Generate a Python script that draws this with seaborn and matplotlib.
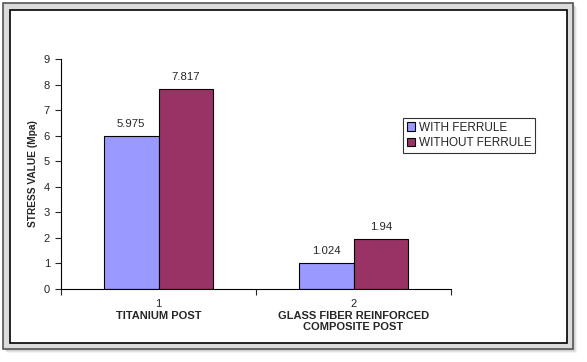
import matplotlib
matplotlib.use("Agg")
import matplotlib.pyplot as plt
import seaborn as sns
import pandas as pd
from matplotlib.patches import Rectangle

categories = ["1", "2"]
category_names = ["TITANIUM POST", "GLASS FIBER REINFORCED\nCOMPOSITE POST"]
series = ["WITH FERRULE", "WITHOUT FERRULE"]
with_ferrule = [5.975, 1.024]
without_ferrule = [7.817, 1.94]
value_labels_with = ["5.975", "1.024"]
value_labels_without = ["7.817", "1.94"]
colors = ["#9999FF", "#993366"]

df = pd.DataFrame({
    "cat": categories * 2,
    "series": [series[0]] * 2 + [series[1]] * 2,
    "value": with_ferrule + without_ferrule,
})

sns.set_style("white")
plt.rcParams["font.family"] = ["Liberation Sans", "DejaVu Sans"]

W, H = 587, 362
fig = plt.figure(figsize=(W / 100, H / 100), dpi=100)
fig.patch.set_facecolor("white")

def px(x0, y0, x1, y1):
    return (x0 / W, 1 - y1 / H), (x1 - x0) / W, (y1 - y0) / H

# shadow
for off, a in [(4, 0.10), (3, 0.15), (2, 0.2)]:
    xy, w, h = px(3 + off, 3 + off, 573 + off, 349 + off)
    fig.patches.append(Rectangle(xy, w, h, transform=fig.transFigure,
                                 facecolor="#888888", alpha=a, edgecolor="none", zorder=0))
xy, w, h = px(3, 3, 573, 349)
fig.patches.append(Rectangle(xy, w, h, transform=fig.transFigure,
                             facecolor="#dcdcdc", edgecolor="#555555", linewidth=1.2, zorder=1))
xy, w, h = px(10, 10, 567, 343)
fig.patches.append(Rectangle(xy, w, h, transform=fig.transFigure,
                             facecolor="white", edgecolor="black", linewidth=1.2, zorder=2))

ax = fig.add_axes([61 / W, 1 - 289 / H, (451 - 61) / W, (289 - 59) / H])
ax.set_facecolor("none")
ax.set_zorder(5)

sns.barplot(data=df, x="cat", y="value", hue="series", palette=colors,
            width=0.56, edgecolor="black", linewidth=0.8, ax=ax, saturation=1)

labels_all = [value_labels_with, value_labels_without]
for cont, labs in zip(ax.containers, labels_all):
    ax.bar_label(cont, labels=labs, padding=5, fontsize=8.2)

ax.set_xlim(-0.5, 1.5)
ax.set_ylim(0, 9)
ax.set_yticks(range(0, 10))
ax.tick_params(axis="y", which="major", direction="out", length=4, width=0.8,
               labelsize=8, left=True, pad=4)
ax.set_xticks([-0.5, 0.5, 1.5])
ax.set_xticklabels(["", "", ""])
ax.tick_params(axis="x", which="major", direction="out", length=4, width=0.8, bottom=True)
ax.set_xticks([0, 1], minor=True)
ax.set_xticklabels(categories, minor=True, fontsize=8)
ax.tick_params(axis="x", which="minor", length=0, pad=7)

for i, name in enumerate(category_names):
    ax.text(i, -0.097, name, transform=ax.get_xaxis_transform(), ha="center", va="top",
            fontsize=8, fontweight="bold", linespacing=1.1)

for s in ["top", "right"]:
    ax.spines[s].set_visible(False)
for s in ["left", "bottom"]:
    ax.spines[s].set_color("black")
    ax.spines[s].set_linewidth(0.8)

ax.set_xlabel("")
ax.set_ylabel("STRESS VALUE (Mpa)", fontsize=7.3, fontweight="bold", labelpad=4)

leg = ax.legend(loc="upper left", bbox_to_anchor=((403 - 61) / (451 - 61), 1 - (118 - 59) / (289 - 59)),
                frameon=True, fancybox=False, fontsize=8.5, handlelength=0.75, handleheight=0.75,
                handletextpad=0.3, borderpad=0.3, labelspacing=0.3, borderaxespad=0)
leg.get_frame().set_edgecolor("black")
leg.get_frame().set_linewidth(0.8)

fig.savefig("out.png", dpi=100)
